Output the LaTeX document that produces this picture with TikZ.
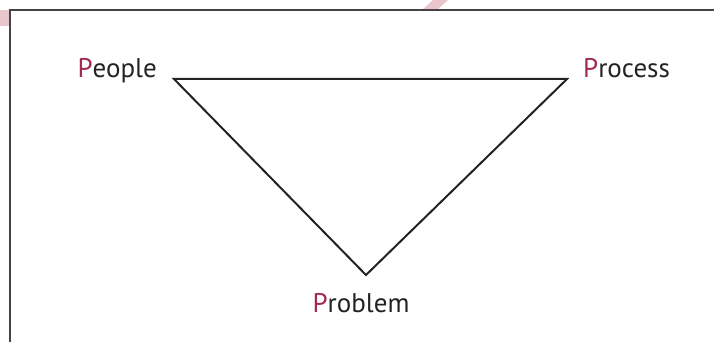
\documentclass[tikz,border=0pt]{standalone}
\usepackage{fontspec}
\setmainfont{PT Sans}
\usetikzlibrary{positioning, calc}
\definecolor{Dark}{HTML}{232323}
\definecolor{Frame}{HTML}{444444}
\definecolor{Accent}{HTML}{A32A4E}
\definecolor{Blush}{HTML}{E9C6CC}
\newcommand{\firstP}[1]{\textcolor{Accent}{P}#1}
\tikzset{
    plabel/.style={inner sep=0pt, text=Dark, font=\fontsize{27}{31}\selectfont},
    edge/.style={line width=2pt, color=Dark},
    frameline/.style={line width=2.2pt, color=Frame},
}

\begin{document}
\begin{tikzpicture}[x=1pt, y=-1pt]
    \useasboundingbox (0,0) rectangle (714,342);
    % Decoro rosa
    \fill[Blush] (0,10) rectangle (10,26);
    \fill[Blush] (422,10) -- (433,0) -- (448,0) -- (437,10) -- cycle;
    % Cornice
    \draw[frameline] (10,342) -- (10,10) -- (714,10);

    % Vertici
    \coordinate (people) at (174,79);
    \coordinate (process) at (567,79);
    \coordinate (problem) at (366,275);

    % Etichette
    \node[plabel, anchor=base east] (lpeople) at (157,78) {\firstP{eople}};
    \node[plabel, anchor=base west] (lprocess) at (583,78) {\firstP{rocess}};
    \node[plabel, anchor=base] (lproblem) at (361,312) {\firstP{roblem}};

    % Triangolo
    \draw[edge, line join=miter] (people) -- (process) -- (problem) -- cycle;
\end{tikzpicture}
\end{document}
